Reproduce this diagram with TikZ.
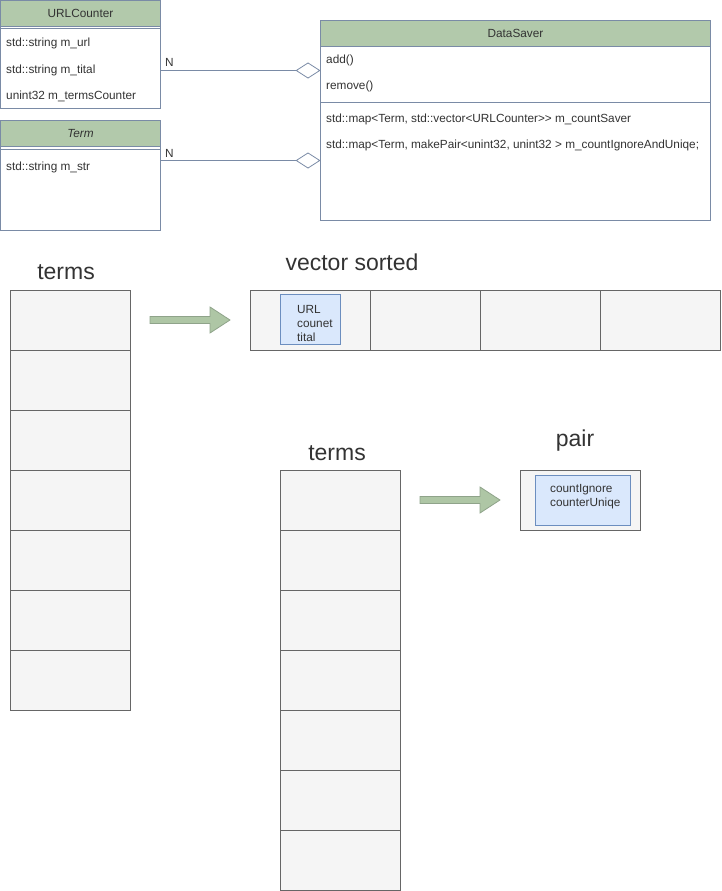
\documentclass[tikz,border=0pt]{standalone}
\usepackage{fontspec}
\setmainfont{Liberation Sans}
\usetikzlibrary{arrows.meta}
\definecolor{hdr}{HTML}{B2C9AB}
\definecolor{umlline}{HTML}{7A8BA6}
\definecolor{txt}{HTML}{333333}
\definecolor{cellfill}{HTML}{F5F5F5}
\definecolor{cellline}{HTML}{666666}
\definecolor{bluefill}{HTML}{DAE8FC}
\definecolor{blueline}{HTML}{6C8EBF}
\definecolor{arrfill}{HTML}{AEC6A5}
\definecolor{arrline}{HTML}{8FA38A}
\begin{document}
\begin{tikzpicture}[x=1pt,y=-1pt,
  umlframe/.style={draw=umlline, line width=0.8pt, fill=white, inner sep=0, outer sep=0, anchor=north west},
  umlhead/.style={draw=umlline, fill=hdr, line width=0.8pt, inner sep=0, outer sep=0, anchor=north west, text=txt, font=\fontsize{11.8}{14}\selectfont},
  member/.style={anchor=west, inner sep=0, text=txt, font=\fontsize{11.8}{14}\selectfont},
  divider/.style={draw=umlline, line width=0.8pt},
  assoc/.style={draw=umlline, line width=0.8pt, -{Diamond[open, length=25pt, width=16pt, line width=0.8pt]}},
  cell/.style={draw=cellline, fill=cellfill, line width=0.8pt, anchor=north west, inner sep=0, outer sep=0},
  bluebox/.style={draw=blueline, fill=bluefill, line width=0.8pt, anchor=north west, inner sep=0, outer sep=0},
  smalltxt/.style={inner sep=0, text=txt, font=\fontsize{11.8}{14}\selectfont, align=left},
  heading/.style={text=txt, font=\fontsize{23}{27}\selectfont, inner sep=0},
  blockarrow/.style={draw=arrline, fill=arrfill, line width=0.8pt, line join=miter}
]
\useasboundingbox (0,0) rectangle (721,891);

% URLCounter
\node[umlframe, minimum width=160pt, minimum height=108pt] (urlc) at (0.5,0.5) {};
\node[umlhead, minimum width=160pt, minimum height=26pt] (urlch) at (0.5,0.5) {URLCounter};
\draw[divider] (0.5,28) -- (160.5,28);
\node[member] (u1) at (6,43) {std::string m\_url};
\node[member] (u2) at (6,70) {std::string m\_tital};
\node[member] (u3) at (6,96) {unint32 m\_termsCounter};

% Term
\node[umlframe, minimum width=160pt, minimum height=110pt] (term) at (0.5,120.5) {};
\node[umlhead, minimum width=160pt, minimum height=26pt, font=\fontsize{11.8}{14}\selectfont\itshape] (termh) at (0.5,120.5) {Term};
\draw[divider] (0.5,149) -- (160.5,149);
\node[member] (t1) at (6,167) {std::string m\_str};

% DataSaver
\node[umlframe, minimum width=390pt, minimum height=200pt] (ds) at (320.5,20.5) {};
\node[umlhead, minimum width=390pt, minimum height=26pt] (dsh) at (320.5,20.5) {DataSaver};
\draw[divider] (320.5,102) -- (710.5,102);
\node[member] (d1) at (326,60) {add()};
\node[member] (d2) at (326,86) {remove()};
\node[member] (d3) at (326,119) {std::map<Term, std::vector<URLCounter>{}> m\_countSaver};
\node[member] (d4) at (326,145) {std::map<Term, makePair<unint32, unint32 > m\_countIgnoreAndUniqe;};

% associations
\coordinate (a1s) at (160.5,70.5);
\coordinate (a1e) at (320.5,70.5);
\coordinate (a2s) at (160.5,160.5);
\coordinate (a2e) at (320.5,160.5);
\draw[assoc] (a1s) -- (a1e);
\draw[assoc] (a2s) -- (a2e);
\node[member] (n1) at (165,62) {N};
\node[member] (n2) at (165,153) {N};

% headings
\node[heading] (h1) at (66,272) {terms};
\node[heading] (h2) at (352,262) {vector sorted};
\node[heading] (h3) at (337,453) {terms};
\node[heading] (h4) at (575,441) {pair};

% left terms column
\foreach \i in {0,...,6} {
  \node[cell, minimum width=120pt, minimum height=60pt] (lc\i) at (10.5,290.5+60*\i) {};
}
% second terms column
\foreach \i in {0,...,6} {
  \node[cell, minimum width=120pt, minimum height=60pt] (rc\i) at (280.5,470.5+60*\i) {};
}

% vector sorted
\node[cell, minimum width=120pt, minimum height=60pt] (v0) at (250.5,290.5) {};
\node[cell, minimum width=110pt, minimum height=60pt] (v1) at (370.5,290.5) {};
\node[cell, minimum width=120pt, minimum height=60pt] (v2) at (480.5,290.5) {};
\node[cell, minimum width=120pt, minimum height=60pt] (v3) at (600.5,290.5) {};
\node[bluebox, minimum width=60pt, minimum height=50pt] (vb) at (280.5,294.5) {};
\node[smalltxt, anchor=west] (vbt) at (297,323) {URL\\counet\\tital};

% pair
\node[cell, minimum width=120pt, minimum height=60pt] (p) at (520.5,470.5) {};
\node[bluebox, minimum width=95pt, minimum height=50pt] (pb) at (535.5,475.5) {};
\node[smalltxt, anchor=west] (pbt) at (550,497) {countIgnore\\counterUniqe};

% block arrows
\draw[blockarrow] (150,316.5) -- (210,316.5) -- (210,307) -- (230,320) -- (210,333) -- (210,323.5) -- (150,323.5) -- cycle;
\draw[blockarrow] (420,496.5) -- (480,496.5) -- (480,487) -- (500,500) -- (480,513) -- (480,503.5) -- (420,503.5) -- cycle;
\end{tikzpicture}
\end{document}
